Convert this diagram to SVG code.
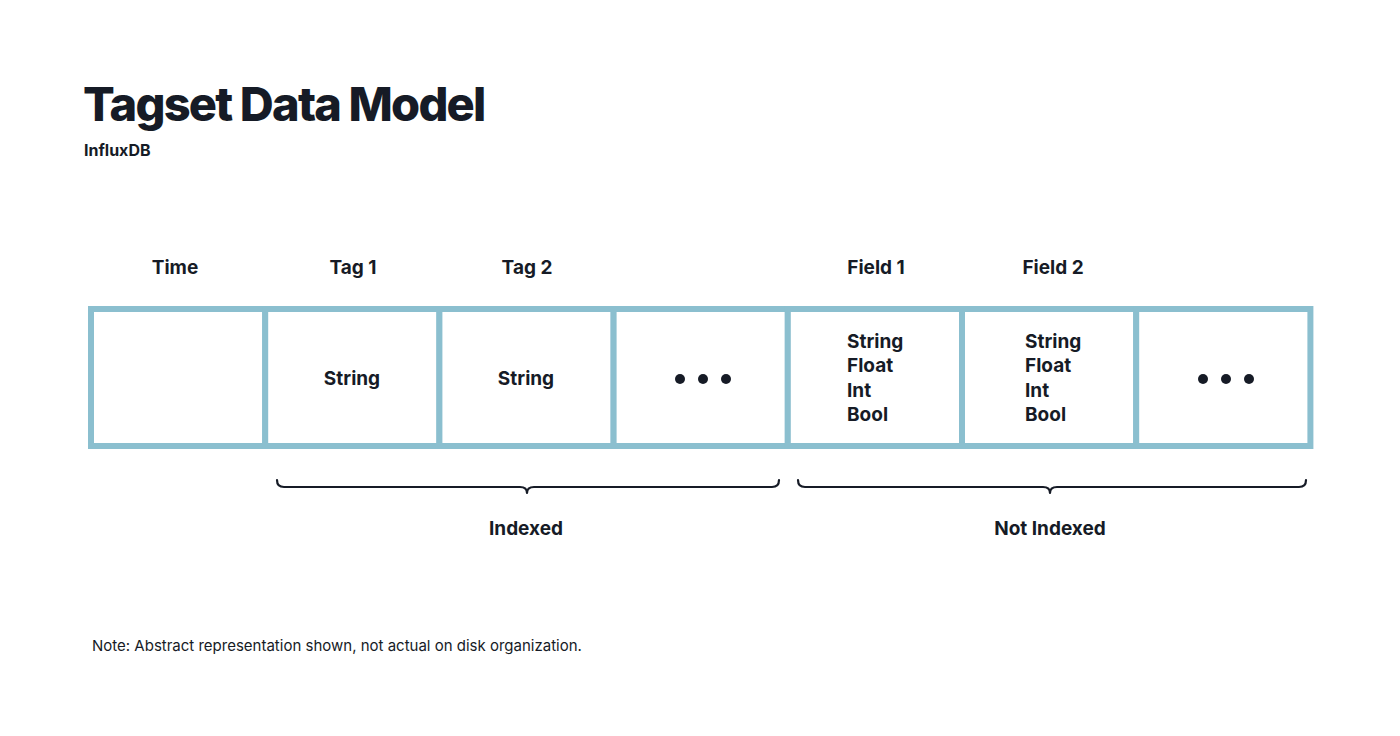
<svg xmlns="http://www.w3.org/2000/svg" width="1400" height="736" viewBox="0 0 1400 736">
<style>
text{font-family:Inter,"Liberation Sans",sans-serif;fill:#161b26}
.h{font-size:19px;font-weight:700;text-anchor:middle}
.c{font-size:19px;font-weight:650}
.m{text-anchor:middle}
.cell{fill:#fff;stroke:#8bbfcf;stroke-width:6}
.dot{fill:#161b26}
.br{fill:none;stroke:#161b26;stroke-width:2.2;stroke-linejoin:round;stroke-linecap:round}
</style>
<rect width="1400" height="736" fill="#fff"/>
<g id="title">
<text x="83" y="121" font-size="47" font-weight="800" letter-spacing="-1.8">Tagset Data Model</text>
<text x="84" y="156" font-size="16" font-weight="700">InfluxDB</text>
</g>
<g id="headers">
<text class="h" x="175" y="274">Time</text>
<text class="h" x="353" y="274">Tag 1</text>
<text class="h" x="527" y="274">Tag 2</text>
<text class="h" x="876" y="274">Field 1</text>
<text class="h" x="1053" y="274">Field 2</text>
</g>
<g id="cell-time"><rect class="cell" x="91" y="309" width="174.2" height="137"/></g>
<g id="cell-tag1"><rect class="cell" x="265.2" y="309" width="174.2" height="137"/><text class="c m" x="352" y="385">String</text></g>
<g id="cell-tag2"><rect class="cell" x="439.4" y="309" width="174.2" height="137"/><text class="c m" x="526" y="385">String</text></g>
<g id="cell-tagmore"><rect class="cell" x="613.6" y="309" width="174.2" height="137"/><circle class="dot" cx="680" cy="379" r="5"/><circle class="dot" cx="703" cy="379" r="5"/><circle class="dot" cx="726" cy="379" r="5"/></g>
<g id="cell-field1"><rect class="cell" x="787.8" y="309" width="174.2" height="137"/>
<text class="c" x="847" y="348">String</text><text class="c" x="847" y="372">Float</text><text class="c" x="847" y="397">Int</text><text class="c" x="847" y="421">Bool</text></g>
<g id="cell-field2"><rect class="cell" x="962" y="309" width="174.2" height="137"/>
<text class="c" x="1025" y="348">String</text><text class="c" x="1025" y="372">Float</text><text class="c" x="1025" y="397">Int</text><text class="c" x="1025" y="421">Bool</text></g>
<g id="cell-fieldmore"><rect class="cell" x="1136.2" y="309" width="174.2" height="137"/><circle class="dot" cx="1203" cy="379" r="5"/><circle class="dot" cx="1226" cy="379" r="5"/><circle class="dot" cx="1249" cy="379" r="5"/></g>
<g id="connectors">
<path class="br" d="M277 480 Q277 487 284 487 L520 487 Q527 487 527 493 Q527 487 534 487 L772 487 Q779 487 779 480"/>
<path class="br" d="M798 480 Q798 487 805 487 L1043 487 Q1050 487 1050 493 Q1050 487 1057 487 L1299 487 Q1306 487 1306 480"/>
</g>
<g id="labels">
<text class="h" x="526" y="535">Indexed</text>
<text class="h" x="1050" y="535">Not Indexed</text>
</g>
<g id="note"><text x="92" y="651" font-size="15">Note: Abstract representation shown, not actual on disk organization.</text></g>
</svg>
